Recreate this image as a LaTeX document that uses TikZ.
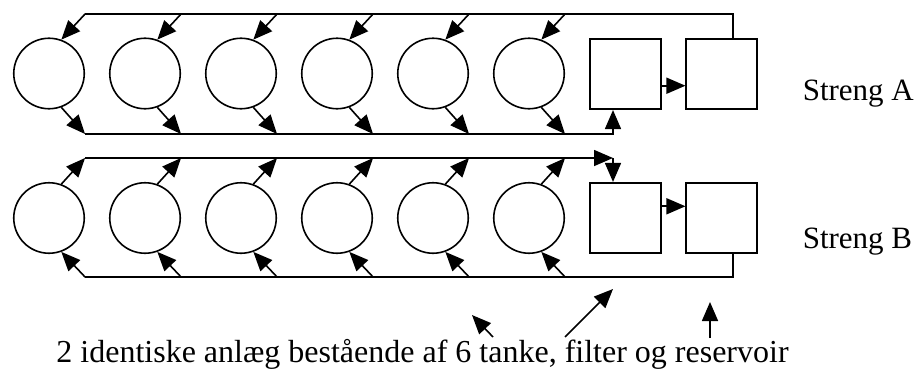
\documentclass[tikz,border=0pt]{standalone}
\usepackage{fontspec}
\setmainfont{Liberation Serif}
\usetikzlibrary{positioning}
\usetikzlibrary{arrows.meta}

\begin{document}
\begin{tikzpicture}[x=1pt, y=-1pt, line width=1.6pt, >={Triangle[length=19pt,width=16pt]},
		tank/.style={circle, draw=black, line width=1.6pt, minimum size=70.5pt, inner sep=0pt},
		unitBox/.style={rectangle, draw=black, line width=1.6pt, minimum size=70.5pt, inner sep=0pt},
		strengText/.style={anchor=base west, inner sep=0pt, font=\fontsize{31}{34}\selectfont}]
		\useasboundingbox (0,0) rectangle (916,372);

		% streng A
		\node[tank](aOne) at (49,73.5){};
		\node[tank](aTwo) at (145,73.5){};
		\node[tank](aThree) at (241,73.5){};
		\node[tank](aFour) at (337,73.5){};
		\node[tank](aFive) at (433,73.5){};
		\node[tank](aSix) at (529,73.5){};
		\node[unitBox](filterA) at (625.5,74){};
		\node[unitBox](reservoirA) at (721.5,74){};
		\node[strengText](strengA) at (802,100){Streng A};

		% streng B
		\node[tank](bOne) at (49,218){};
		\node[tank](bTwo) at (145,218){};
		\node[tank](bThree) at (241,218){};
		\node[tank](bFour) at (337,218){};
		\node[tank](bFive) at (433,218){};
		\node[tank](bSix) at (529,218){};
		\node[unitBox](filterB) at (625.5,218){};
		\node[unitBox](reservoirB) at (721.5,218){};
		\node[strengText](strengB) at (802,248){Streng B};

		\node[anchor=base, inner sep=0pt, font=\fontsize{32}{36}\selectfont](caption) at (422.5,362){2 identiske anlæg bestående af 6 tanke, filter og reservoir};

		\coordinate (aTop) at (85,14);
		\coordinate (aTurn) at (733,14);
		\coordinate (aBottom) at (85,134);
		\coordinate (aFilterIn) at (613,134);
		\coordinate (bTop) at (85,158);
		\coordinate (bFilterIn) at (613,158);
		\coordinate (bBottom) at (85,277);
		\coordinate (bTurn) at (733,277);

		% draw return lines A
		\draw (aTop) -- (aTurn) -- (aTurn |- reservoirA.north);
		\draw[->] (aBottom) -- (aFilterIn) -- (aFilterIn |- filterA.south);
		\draw[->] (filterA.-18) -- (filterA.-18 -| reservoirA.west);

		% draw inlet edges A
		\draw[->] (aOne.east |- aTop) -- (aOne.70);
		\draw[->] (aTwo.east |- aTop) -- (aTwo.70);
		\draw[->] (aThree.east |- aTop) -- (aThree.70);
		\draw[->] (aFour.east |- aTop) -- (aFour.70);
		\draw[->] (aFive.east |- aTop) -- (aFive.70);
		\draw[->] (aSix.east |- aTop) -- (aSix.70);

		% draw outlet edges A
		\draw[->] (aOne.-70) -- (aOne.east |- aBottom);
		\draw[->] (aTwo.-70) -- (aTwo.east |- aBottom);
		\draw[->] (aThree.-70) -- (aThree.east |- aBottom);
		\draw[->] (aFour.-70) -- (aFour.east |- aBottom);
		\draw[->] (aFive.-70) -- (aFive.east |- aBottom);
		\draw[->] (aSix.-70) -- (aSix.east |- aBottom);

		% draw return lines B
		\draw (reservoirB.south -| bTurn) -- (bTurn) -- (bBottom);
		\draw[->] (bTop) -- (bFilterIn);
		\draw[->] (bFilterIn) -- (bFilterIn |- filterB.north);
		\draw[->] (filterB.18) -- (filterB.18 -| reservoirB.west);

		% draw inlet edges B
		\draw[->] (bOne.east |- bBottom) -- (bOne.-70);
		\draw[->] (bTwo.east |- bBottom) -- (bTwo.-70);
		\draw[->] (bThree.east |- bBottom) -- (bThree.-70);
		\draw[->] (bFour.east |- bBottom) -- (bFour.-70);
		\draw[->] (bFive.east |- bBottom) -- (bFive.-70);
		\draw[->] (bSix.east |- bBottom) -- (bSix.-70);

		% draw outlet edges B
		\draw[->] (bOne.70) -- (bOne.east |- bTop);
		\draw[->] (bTwo.70) -- (bTwo.east |- bTop);
		\draw[->] (bThree.70) -- (bThree.east |- bTop);
		\draw[->] (bFour.70) -- (bFour.east |- bTop);
		\draw[->] (bFive.70) -- (bFive.east |- bTop);
		\draw[->] (bSix.70) -- (bSix.east |- bTop);

		% draw caption pointers
		\coordinate (tankTail) at (493,337);
		\coordinate (tankTip) at (472,315);
		\coordinate (filterTail) at (565,337);
		\coordinate (filterTip) at (613,289);
		\coordinate (reservoirTail) at (710,338);
		\coordinate (reservoirTip) at (710,302);
		\draw[->] (tankTail) -- (tankTip);
		\draw[->] (filterTail) -- (filterTip);
		\draw[->] (reservoirTail) -- (reservoirTip);

	\end{tikzpicture}
\end{document}
